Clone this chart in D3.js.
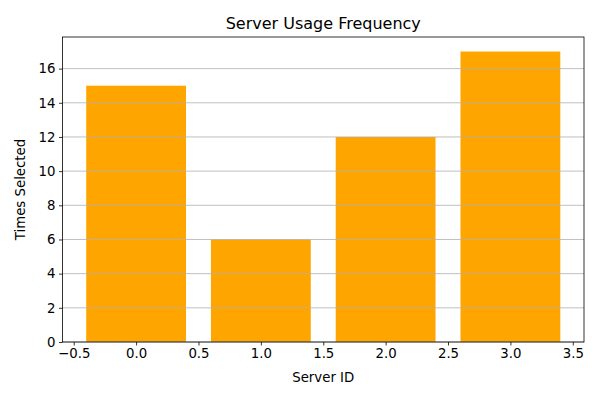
<!DOCTYPE html>
<html><head><meta charset="utf-8">
<script src="https://cdn.jsdelivr.net/npm/d3@7"></script>
<style>body{margin:0;background:#fff}svg{display:block;font-family:"DejaVu Sans",sans-serif}</style>
</head><body><svg id="c" width="600" height="400"></svg>
<script>
const serverIds = [0, 1, 2, 3];
const timesSelected = [15, 6, 12, 17];
const xTicks = [-0.5, 0.0, 0.5, 1.0, 1.5, 2.0, 2.5, 3.0, 3.5];
const yTicks = [0, 2, 4, 6, 8, 10, 12, 14, 16];

const svg = d3.select("#c");
const L = 62.5, R = 584, T = 37, B = 342;
const barW = 0.8;
const xMin = -barW/2, xMax = serverIds.length - 1 + barW/2;
const xm = (xMax - xMin) * 0.05;
const x = d3.scaleLinear().domain([xMin - xm, xMax + xm]).range([L, R]);
const yMax = d3.max(timesSelected) * 1.05;
const y = d3.scaleLinear().domain([0, yMax]).range([B, T]);

svg.append("g").selectAll("rect").data(serverIds).join("rect")
  .attr("x", d => x(d - barW/2)).attr("width", d => x(d + barW/2) - x(d - barW/2))
  .attr("y", (d,i) => y(timesSelected[i])).attr("height", (d,i) => B - y(timesSelected[i]))
  .attr("fill", "#ffa500");

// grid
svg.append("g").selectAll("line").data(yTicks).join("line")
  .attr("x1", L).attr("x2", R).attr("y1", d => y(d)).attr("y2", d => y(d))
  .attr("stroke", "#b0b0b0").attr("stroke-width", 0.8);

const xa = svg.append("g").attr("transform", `translate(0,${B})`)
  .call(d3.axisBottom(x).tickValues(xTicks).tickFormat(d3.format(".1f")).tickSize(3.5).tickPadding(3.5));
const ya = svg.append("g").attr("transform", `translate(${L},0)`)
  .call(d3.axisLeft(y).tickValues(yTicks).tickFormat(d3.format("d")).tickSize(3.5).tickPadding(3.5));
[xa, ya].forEach(a => {
  a.select(".domain").remove();
  a.selectAll("line").attr("stroke", "#000").attr("stroke-width", 0.8);
  a.selectAll("text").attr("font-size", "13.3px").attr("fill", "#000").attr("font-family", "DejaVu Sans");
});
xa.selectAll("text").text(d => d < 0 ? "\u2212" + Math.abs(d).toFixed(1) : d.toFixed(1));

svg.append("rect").attr("x", L).attr("y", T).attr("width", R - L).attr("height", B - T)
  .attr("fill", "none").attr("stroke", "#000").attr("stroke-width", 0.8);

svg.append("text").attr("x", (L + R)/2).attr("y", 29).attr("text-anchor", "middle")
  .attr("font-size", "16px").text("Server Usage Frequency");
svg.append("text").attr("x", (L + R)/2).attr("y", 382).attr("text-anchor", "middle")
  .attr("font-size", "13.3px").text("Server ID");
svg.append("text").attr("transform", `translate(25,${(T + B)/2}) rotate(-90)`).attr("text-anchor", "middle")
  .attr("font-size", "13.3px").text("Times Selected");
</script></body></html>
